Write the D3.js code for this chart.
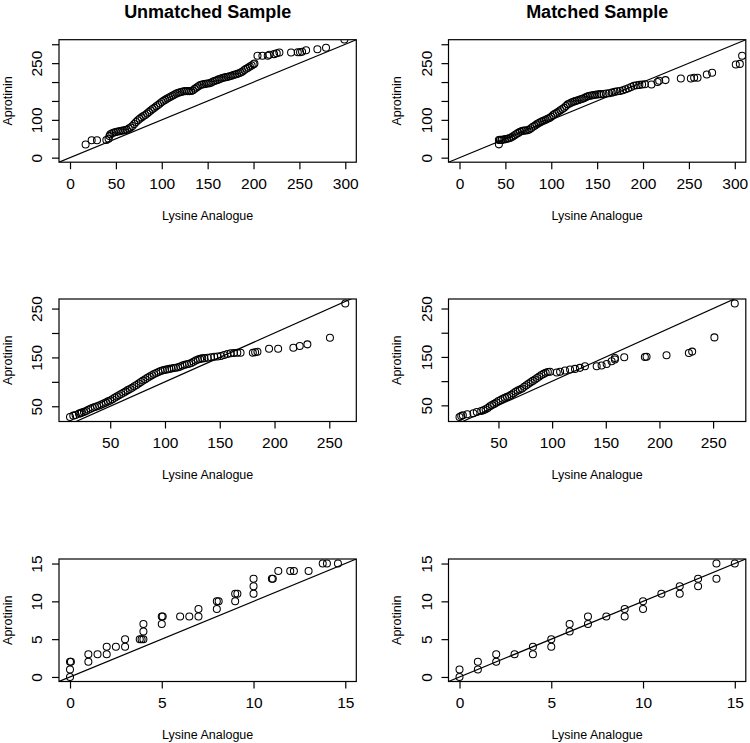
<!DOCTYPE html>
<html>
<head>
<meta charset="utf-8">
<script src="https://cdn.jsdelivr.net/npm/d3@7"></script>
<style>
  html, body { margin: 0; padding: 0; background: #fff; }
  svg text { font-family: "Liberation Sans", Arial, Helvetica, sans-serif; fill: #000; }
</style>
</head>
<body>
<svg id="chart" width="750" height="743"></svg>
<script>
// ---------------- DATA ----------------
const columnTitles = ["Unmatched Sample", "Matched Sample"];
const xAxisTitle = "Lysine Analogue";
const yAxisTitle = "Aprotinin";

// Row 1, unmatched: [lysine analogue quantile, aprotinin quantile]
const unmatchedRow1 = [
  [17,35],[23.6,45.8],[29.4,45.8],[39.6,46.7],[42,50],[43,57],[44,62],[46,64.5],[48,66.5],[50,68],
  [52,69],[54,70],[56,71],[58,72],[60,73],[62,74],[64,77],[66,80],[68,84],[70,89],[72,94.5],[74,99],
  [76,103],[78,106.5],[80,110],[82,113],[84,117],[86,120.5],[88,124.5],[90,128.5],[92,132],[94,136],
  [96,139.5],[98,143],[100,147],[102,150.5],[104,153.5],[106,156.5],[108,159],[110,162],[112,164.5],
  [114,167],[116,169.5],[118,171.5],[120,173],[122,174.5],[124,175.5],[126,176],[128,176],[130,176],
  [132,176.5],[134,178],[136,182],[138,185.5],[140,189],[142,192],[144,193.5],[146,194.5],[148,195.5],
  [150,196],[152,197],[154,199],[156,201.5],[158,203.5],[160,205],[162,207],[164,208.5],[166,210.5],
  [168,212],[170,213],[172,214],[174,215.5],[176,216.5],[178,218.5],[180,220],[182,221.5],[184,223.5],
  [186,225.5],[188,228],[190,232],[192,235],[194,238],[196,241],[198,244],[200,247],[201,249],
  [204.3,269.4],[209.7,269.4],[215.5,269.4],[217.3,272],[222.4,273.8],[225.3,276.4],[228.2,278.2],
  [240.9,278.2],[248.2,279],[250.7,279],[252.9,280],[257.3,284.3],[269.6,287],[279,290.5],[299,312.5]
];
// Row 1, matched
const matchedRow1 = [
  [42.9,35.2],[42.9,46.7],[45.8,46.7],[44,47],[46,47.5],[48,48],[50,49],[52,50],[54,51.5],[56,53],
  [58,56],[60,59.5],[62,62.5],[64,65.5],[66,68.5],[68,70.5],[70,71.5],[72,72],[74,72.5],[76,74.5],
  [78,78],[80,81.5],[82,84.5],[84,88],[86,91],[88,93.5],[90,96],[92,98.5],[94,100.5],[96,103],[98,105],
  [100,108],[102,112.5],[104,116],[106,119],[108,122],[110,125.5],[112,128.5],[114,132],[116,136.5],
  [118,141],[120,143.5],[122,146],[124,148],[126,149.5],[128,151],[130,152.5],[132,154.5],[134,156],
  [136,158],[138,160.5],[140,162.5],[142,163.5],[144,164.5],[146,165.5],[148,166.5],[150,167],
  [152,167.5],[154,168],[157,168.5],[160,169.5],[163,170.5],[166,172],[169,174],[172,175.5],[175,176.5],
  [178,178.5],[181,181],[184,183.5],[187,187],[190,190],[193,191.5],[196,192.5],[199,193.5],[202,194],
  [209.2,193.7],[215.8,200],[217.6,203.3],[224.5,205.1],[241.2,209.5],[252.1,209.5],[255.7,211.3],
  [259.4,211.3],[269.5,220],[275.3,224.5],[301.1,246.5],[305.5,248],[308,269.4]
];
// Row 2, unmatched
const unmatchedRow2 = [
  [13.3,28.1],[16.3,30.8],[18.4,32.2],[21.5,34.9],[23,35.5],[24,37],[26,38.5],[28,40.5],[30,43],[32,45],
  [34,47],[36,48.5],[38,50],[40,51.5],[42,53.5],[44,55.5],[46,57.5],[48,60],[50,62],[52,64.5],[54,67.5],
  [56,70],[58,72.5],[60,75],[62,77.5],[64,80],[66,83],[68,85.5],[70,88],[72,91],[74,93.5],[76,96.5],
  [78,99.5],[80,102.5],[82,105.5],[84,108.5],[86,111],[88,113.5],[90,116],[92,118],[94,120],[96,122],
  [98,123.5],[100,124.5],[102,125.5],[104,126.5],[106,127.5],[108,128.5],[110,129],[112,130],[114,131.5],
  [116,133.5],[118,135],[120,136],[122,137],[124,138.5],[126,141],[128,143.5],[130,145.5],[132,147],
  [134,148],[136,148.5],[139,149.5],[142,150.5],[145,151.5],[148,152],[151,153],[154,155],[157,157],
  [160,158.5],[163,159],[166,159.5],[169,159.5],
  [180.2,159.6],[182.3,160.5],[184.4,161.6],[195,167.8],[203.3,167.8],[217.2,169.9],[223,173.3],
  [230,176.7],[250.6,190.4],[264.6,260.3]
];
// Row 2, matched
const matchedRow2 = [
  [13.7,26],[15.3,28.1],[16.8,29.5],[20.9,31.5],[26.7,33.6],[29.8,36.3],[33.9,38.4],[36,40],[38,42],
  [40,44.5],[42,48],[44,50.5],[46,53],[48,56],[50,59],[52,61],[54,63.5],[56,65.5],[58,67.5],[60,69.5],
  [62,72],[64,75],[66,78],[68,80.5],[70,82.5],[72,85],[74,88.5],[76,91.5],[78,94.5],[80,97.5],[82,100.5],
  [84,103.5],[86,106.5],[88,109.5],[90,112.5],[92,115],[94,117.5],[96,119],[98,119.5],
  [104.3,118],[107.4,119.2],[112,121.9],[116.7,124],[121.3,125.3],[125.9,127.4],[130.6,130.8],
  [141.5,130.8],[146.1,132.2],[150.8,135.6],[155.4,141.1],[158.5,144.5],[158.5,147.9],[167.2,149.3],
  [186.4,150],[188,150.5],[206.6,153.4],[227.4,158.2],[230.5,161],[251.2,190.4],[270.2,260.3]
];
// Row 3, unmatched
const unmatchedRow3 = [
  [0,0],[0,1],[0,2],[0.05,2],[1,2],[1,3],[1.5,3],[2,3],[2,4],[2.5,4],[3,4],[3,5],[3.8,5],[3.9,5],[4,5],
  [4,6],[4,7],[5,7],[5,8],[5.05,8],[6,8],[6.5,8],[7,8],[7,9],[8,9],[8,10],[8.1,10],[9,10],[9,11],[9.12,11],
  [10,11],[10,12],[10,13],[11,13],[11.05,13],[11.35,14],[12,14],[12.2,14],[13,14],[13.77,15],[14,15],[14.6,15]
];
// Row 3, matched
const matchedRow3 = [
  [0,0],[0,1],[1,1],[1,2],[2,2],[2,3],[3,3],[4,3],[4,4],[5,4],[5,5],[6,6],[6,7],[7,7],[7,8],[8,8],
  [9,8],[9,9],[10,9],[10,10],[11,11],[12,11],[12,12],[13,12],[13,13],[14,13],[14,15],[15,15]
];

// axis limits (null = from data range), tick values and tick labels
const panelData = [unmatchedRow1, matchedRow1, unmatchedRow2, matchedRow2, unmatchedRow3, matchedRow3];
const panelLims = [[0,300],[0,300],null,null,[0,15],[0,15]];
const xTickValues = [[0,50,100,150,200,250,300],[0,50,100,150,200,250,300],[50,100,150,200,250],[50,100,150,200,250],[0,5,10,15],[0,5,10,15]];
const yTickValues = [[0,50,100,150,200,250,300],[0,50,100,150,200,250,300],[50,100,150,200,250],[50,100,150,200,250],[0,5,10,15],[0,5,10,15]];
const yTickLabels = [[0,100,250],[0,100,250],[50,150,250],[50,150,250],[0,5,10,15],[0,5,10,15]];

// ---------------- LAYOUT ----------------
const colLeft = [59, 448.5], boxW = 297.3;
const rowTop = [39.7, 299, 559], boxH = 122.5;

const svg = d3.select("#chart");
svg.append("rect").attr("width", 750).attr("height", 743).attr("fill", "#fff");

function padded(ext) { const d = ext[1] - ext[0]; return [ext[0] - 0.04 * d, ext[1] + 0.04 * d]; }

columnTitles.forEach((t, c) => {
  svg.append("text").attr("x", colLeft[c] + boxW / 2).attr("y", 17.5)
    .attr("text-anchor", "middle").attr("font-size", 18).attr("font-weight", "bold").text(t);
});

panelData.forEach((pts, i) => {
  const row = Math.floor(i / 2), col = i % 2;
  const L = colLeft[col], T = rowTop[row];
  const lim = panelLims[i];
  const xd = padded(lim || d3.extent(pts, d => d[0]));
  const yd = padded(lim || d3.extent(pts, d => d[1]));
  const x = d3.scaleLinear().domain(xd).range([L, L + boxW]);
  const y = d3.scaleLinear().domain(yd).range([T + boxH, T]);

  const g = svg.append("g");
  const clipId = "clip" + i;
  g.append("clipPath").attr("id", clipId).append("rect")
    .attr("x", L).attr("y", T).attr("width", boxW).attr("height", boxH);

  const plot = g.append("g").attr("clip-path", `url(#${clipId})`);
  // identity line y = x
  const lo = Math.min(xd[0], yd[0]), hi = Math.max(xd[1], yd[1]);
  plot.append("line").attr("x1", x(lo)).attr("y1", y(lo)).attr("x2", x(hi)).attr("y2", y(hi))
    .attr("stroke", "#000").attr("stroke-width", 1.2);
  plot.selectAll("circle").data(pts).join("circle")
    .attr("cx", d => x(d[0])).attr("cy", d => y(d[1])).attr("r", 3.5)
    .attr("fill", "none").attr("stroke", "#000").attr("stroke-width", 1.05);

  // box
  g.append("rect").attr("x", L).attr("y", T).attr("width", boxW).attr("height", boxH)
    .attr("fill", "none").attr("stroke", "#000").attr("stroke-width", 1.2);

  // x axis
  const xa = g.append("g").attr("transform", `translate(0,${T + boxH})`)
    .call(d3.axisBottom(x).tickValues(xTickValues[i]).tickSize(7).tickSizeOuter(0).tickFormat(d3.format("d")));
  xa.select(".domain").remove();
  xa.selectAll(".tick line").attr("stroke", "#000").attr("stroke-width", 1.2);
  xa.selectAll(".tick text").attr("y", 26.5).attr("dy", 0).attr("font-size", 15.5)
    .attr("font-family", '"Liberation Sans", Arial, sans-serif').attr("fill", "#000");

  // y axis
  const labs = new Set(yTickLabels[i]);
  const ya = g.append("g").attr("transform", `translate(${L},0)`)
    .call(d3.axisLeft(y).tickValues(yTickValues[i]).tickSize(7).tickSizeOuter(0)
      .tickFormat(v => labs.has(v) ? String(v) : ""));
  ya.select(".domain").remove();
  ya.selectAll(".tick line").attr("stroke", "#000").attr("stroke-width", 1.2);
  ya.selectAll(".tick text").attr("transform", "rotate(-90)").attr("x", 0).attr("y", -16.8).attr("dy", 0)
    .attr("text-anchor", "middle").attr("font-size", 15.5)
    .attr("font-family", '"Liberation Sans", Arial, sans-serif').attr("fill", "#000");

  // axis titles
  g.append("text").attr("x", L + boxW / 2).attr("y", T + boxH + 57.5)
    .attr("text-anchor", "middle").attr("font-size", 12.5).text(xAxisTitle);
  g.append("text").attr("transform", `translate(${L - 47.5},${T + boxH / 2}) rotate(-90)`)
    .attr("text-anchor", "middle").attr("font-size", 12.5).text(yAxisTitle);
});
</script>
</body>
</html>
